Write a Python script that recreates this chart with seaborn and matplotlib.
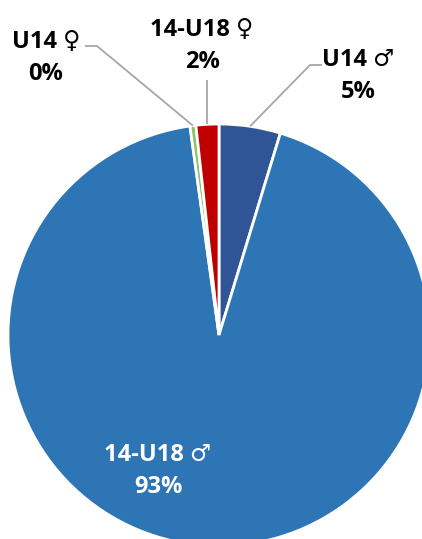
# pie chart of members by age group and gender, labels outside with leader lines

import matplotlib.pyplot as plt
import numpy as np
import seaborn as sns

groups = ['U14 ♂', '14-U18 ♂', 'U14 ♀', '14-U18 ♀']
shares = [4.7, 93.1, 0.45, 1.75]
shown = ['5%', '93%', '0%', '2%']
colors = ['#2F5597', '#2E75B6', '#8CC168', '#C00000']

sns.set_style('white')
plt.rcParams['font.family'] = ['Open Sans', 'DejaVu Sans']

W, H = 422, 539
cx, cy, R = 219, 335, 211

def px(x, y):
    # pixel position -> data position (pie radius = 1)
    return (x - cx) / R, (cy - y) / R

fig = plt.figure(figsize=(W / 100, H / 100), dpi=100)
ax = fig.add_axes([0, 0, 1, 1])
wedges, _ = ax.pie(shares, colors=colors, startangle=90, counterclock=False,
                   wedgeprops=dict(edgecolor='white', linewidth=2))
ax.set_xlim(px(0, 0)[0], px(W, 0)[0])
ax.set_ylim(px(0, H)[1], px(0, 0)[1])
ax.set_aspect('auto')
ax.axis('off')

# label block centre and leader line elbow/end (pixels)
lay = {
    'U14 ♂': dict(text=(358, 76), elbow=[(310, 65), (322, 65)]),
    '14-U18 ♀': dict(text=(202, 46), elbow=[(None, 80)]),
    'U14 ♀': dict(text=(46, 58), elbow=[(97, 46), (85, 46)]),
}

for w, g, s in zip(wedges, groups, shown):
    tx, ty = px(*lay[g]['text']) if g in lay else px(158, 471)
    col = 'white' if g == '14-U18 ♂' else 'black'
    ax.text(tx, ty, f'{g}\n{s}', ha='center', va='center', fontsize=17,
            fontweight='bold', color=col, linespacing=1.4)
    if g in lay:
        ang = np.deg2rad((w.theta1 + w.theta2) / 2)
        xs, ys = [np.cos(ang)], [np.sin(ang)]
        for ex, ey in lay[g]['elbow']:
            p = px(ex if ex is not None else 0, ey)
            xs.append(p[0] if ex is not None else xs[0])
            ys.append(p[1])
        ax.plot(xs, ys, color='#A6A6A6', lw=1.3, solid_capstyle='butt')

fig.savefig('out.png', dpi=100)
